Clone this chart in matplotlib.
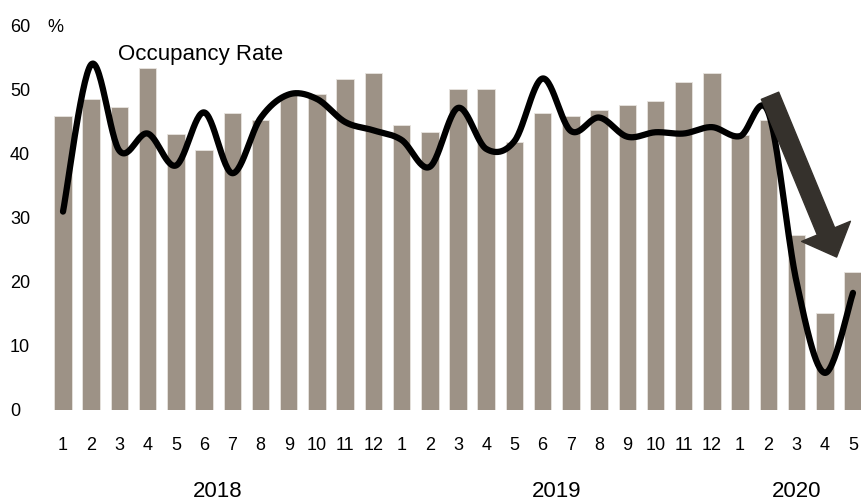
import numpy as np
import matplotlib
matplotlib.use("Agg")
import matplotlib.pyplot as plt
from matplotlib.patches import FancyArrowPatch

plt.rcParams['font.family'] = ['Liberation Sans', 'DejaVu Sans']

# ---------------------------------------------------------------
# data
years = ["2018", "2019", "2020"]
months_per_year = [12, 12, 5]
month_labels = [str(m) for m in range(1, 13)] * 2 + [str(m) for m in range(1, 6)]

# bars
bar_values = [45.9, 48.6, 47.4, 53.4, 43.1, 40.6, 46.4, 45.3, 49.2, 49.3, 51.7, 52.6,
              44.5, 43.4, 50.2, 50.2, 41.8, 46.4, 45.9, 46.8, 47.7, 48.3, 51.3, 52.6,
              42.9, 45.3, 27.3, 15.2, 21.6]

# occupancy rate line
occupancy = [31.0, 54.0, 40.5, 43.2, 38.2, 46.5, 37.0, 45.6, 49.3, 48.6, 45.0, 43.7,
             42.2, 38.0, 47.2, 40.8, 42.0, 51.8, 43.6, 45.7, 42.7, 43.4, 43.2, 44.2,
             42.8, 46.5, 20.0, 5.8, 18.3]

yticks = [0, 10, 20, 30, 40, 50, 60]

BAR_COLOR = "#9d9286"
ARROW_COLOR = "#35312c"


def smooth_line(xs, ys, n=30):
    # excel-like smoothed line (catmull-rom through the points)
    P = np.column_stack([np.asarray(xs, float), np.asarray(ys, float)])
    P = np.vstack([P[0], P, P[-1]])
    out = []
    t = np.linspace(0, 1, n)[:, None]
    for i in range(1, len(P) - 2):
        p0, p1, p2, p3 = P[i - 1], P[i], P[i + 1], P[i + 2]
        c1 = p1 + (p2 - p0) / 6.0
        c2 = p2 - (p3 - p1) / 6.0
        seg = ((1 - t) ** 3) * p1 + 3 * ((1 - t) ** 2) * t * c1 \
            + 3 * (1 - t) * t ** 2 * c2 + t ** 3 * p2
        out.append(seg if i == 1 else seg[1:])
    out = np.vstack(out)
    return out[:, 0], out[:, 1]


# ---------------------------------------------------------------
W, H = 862, 503
fig = plt.figure(figsize=(W / 100, H / 100), dpi=100)
left, right, top, bottom = 45, 862, 26, 410
ax = fig.add_axes([left / W, (H - bottom) / H, (right - left) / W, (bottom - top) / H])

x = np.arange(len(bar_values))
ax.bar(x, bar_values, width=0.62, color=BAR_COLOR, edgecolor="#e8e4df", linewidth=0.6, zorder=1)

lx, ly = smooth_line(x, occupancy)
ax.plot(lx, ly, color="black", linewidth=4.5, solid_capstyle="round", zorder=3, clip_on=False)

ax.set_xlim(-0.638, 28.32)
ax.set_ylim(0, 60)

for s in ax.spines.values():
    s.set_visible(False)

ax.set_xticks(x)
ax.set_xticklabels(month_labels, fontsize=13)
ax.set_yticks(yticks)
ax.set_yticklabels([str(v) for v in yticks], fontsize=13, ha="left")
ax.tick_params(axis="x", length=0, pad=19.5)
ax.tick_params(axis="y", length=0, pad=25.2)

# percent sign next to the top tick
ax.text(-0.57, 60, "%", fontsize=13, ha="left", va="center_baseline")

# series label
ax.text(1.95, 55.6, "Occupancy Rate", fontsize=16, ha="left", va="center")

# year labels centred under their months
start = 0
for yr, n in zip(years, months_per_year):
    ax.text(start + (n - 1) / 2.0, -0.213, yr, fontsize=16, ha="center", va="center",
            transform=ax.get_xaxis_transform())
    start += n

# big down arrow
arrow = FancyArrowPatch((25.06, 49.1), (27.42, 23.9),
                        arrowstyle="simple,head_length=20,head_width=38,tail_width=13.5",
                        mutation_scale=1, color=ARROW_COLOR, shrinkA=0, shrinkB=0,
                        zorder=4, clip_on=False)
ax.add_patch(arrow)

fig.savefig("out.png", dpi=100)
